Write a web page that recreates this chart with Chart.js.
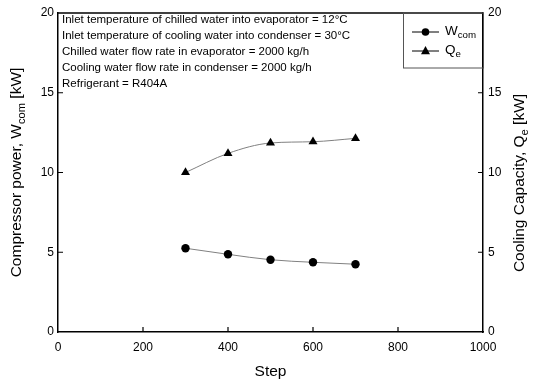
<!DOCTYPE html>
<html><head><meta charset="utf-8">
<script src="https://cdn.jsdelivr.net/npm/chart.js@4/dist/chart.umd.min.js"></script>
<style>html,body{margin:0;padding:0;background:#fff}canvas{display:block}</style>
</head><body>
<canvas id="c" width="536" height="381"></canvas>
<script>
// ---- data ----
const steps = [300, 400, 500, 600, 700];
const wcom = [5.25, 4.87, 4.53, 4.37, 4.25];
const qe = [10.0, 11.2, 11.85, 11.93, 12.14];
const xTickValues = [200, 400, 600, 800];
const yTickValues = [5, 10, 15];
const notes = [
  'Inlet temperature of chilled water into evaporator = 12°C',
  'Inlet temperature of cooling water into condenser = 30°C',
  'Chilled water flow rate in evaporator = 2000 kg/h',
  'Cooling water flow rate in condenser = 2000 kg/h',
  'Refrigerant = R404A'
];
const FONT = "'Liberation Sans', Arial, sans-serif";

function drawParts(ctx, parts, x, y, size, align) {
  let total = 0;
  const widths = parts.map(([t, sub]) => {
    ctx.font = (sub ? size * 0.72 : size) + 'px ' + FONT;
    const w = ctx.measureText(t).width; total += w; return w;
  });
  let cx = align === 'center' ? x - total / 2 : x;
  parts.forEach(([t, sub], i) => {
    ctx.font = (sub ? size * 0.72 : size) + 'px ' + FONT;
    ctx.textAlign = 'left';
    ctx.textBaseline = 'middle';
    ctx.fillText(t, cx, y + (sub ? size * 0.32 : 0));
    cx += widths[i];
  });
}

const decor = {
  id: 'decor',
  afterDraw(chart) {
    const ctx = chart.ctx, a = chart.chartArea;
    const sx = chart.scales.x, sy = chart.scales.y, sy1 = chart.scales.y1;
    ctx.save();
    ctx.strokeStyle = '#000'; ctx.fillStyle = '#000';
    ctx.lineWidth = 1.5;
    ctx.beginPath(); ctx.moveTo(a.left, a.top); ctx.lineTo(a.right, a.top); ctx.stroke();
    ctx.lineWidth = 1.2;
    ctx.beginPath();
    xTickValues.forEach(v => { const px = sx.getPixelForValue(v); ctx.moveTo(px, a.bottom); ctx.lineTo(px, a.bottom - 5); });
    yTickValues.forEach(v => {
      const py = sy.getPixelForValue(v); ctx.moveTo(a.left, py); ctx.lineTo(a.left + 5, py);
      const py1 = sy1.getPixelForValue(v); ctx.moveTo(a.right, py1); ctx.lineTo(a.right - 5, py1);
    });
    ctx.stroke();
    ctx.font = '11.5px ' + FONT; ctx.textAlign = 'left'; ctx.textBaseline = 'middle';
    notes.forEach((t, i) => ctx.fillText(t, a.left + 4, a.top + 7 + i * 16));
    const lx = 403, ly = a.top, lw = a.right - lx, lh = 55;
    ctx.lineWidth = 1;
    ctx.strokeStyle = '#555';
    ctx.strokeRect(lx + 0.5, ly, lw, lh);
    ctx.strokeStyle = '#000';
    const rows = [
      { y: ly + 19, style: 'circle', parts: [['W', false], ['com', true]] },
      { y: ly + 38, style: 'triangle', parts: [['Q', false], ['e', true]] }
    ];
    rows.forEach(r => {
      ctx.lineWidth = 1; ctx.strokeStyle = '#000';
      ctx.beginPath(); ctx.moveTo(412, r.y); ctx.lineTo(439, r.y); ctx.stroke();
      ctx.beginPath();
      if (r.style === 'circle') { ctx.arc(425.5, r.y, 3.8, 0, Math.PI * 2); }
      else { ctx.moveTo(425.5, r.y - 5); ctx.lineTo(430, r.y + 3.2); ctx.lineTo(421, r.y + 3.2); ctx.closePath(); }
      ctx.fill();
      drawParts(ctx, r.parts, 445, r.y - 1, 13.5, 'left');
    });
    ctx.save();
    ctx.translate(17, (a.top + a.bottom) / 2);
    ctx.rotate(-Math.PI / 2);
    drawParts(ctx, [['Compressor power, W', false], ['com', true], [' [kW]', false]], 0, 0, 15.5, 'center');
    ctx.restore();
    ctx.save();
    ctx.translate(520, 183);
    ctx.rotate(-Math.PI / 2);
    drawParts(ctx, [['Cooling Capacity, Q', false], ['e', true], [' [kW]', false]], 0, 0, 15.5, 'center');
    ctx.restore();
    ctx.restore();
  }
};

const tickFont = { family: FONT, size: 12 };
const borderOpt = { display: true, color: '#000', width: 1.5 };

new Chart(document.getElementById('c'), {
  type: 'line',
  data: {
    datasets: [
      {
        label: 'Wcom', yAxisID: 'y',
        data: steps.map((s, i) => ({ x: s, y: wcom[i] })),
        borderColor: '#808080', borderWidth: 1, cubicInterpolationMode: 'monotone',
        pointStyle: 'circle', pointRadius: 4.2, pointBackgroundColor: '#000', pointBorderColor: '#000', pointBorderWidth: 0
      },
      {
        label: 'Qe', yAxisID: 'y1',
        data: steps.map((s, i) => ({ x: s, y: qe[i] })),
        borderColor: '#808080', borderWidth: 1, cubicInterpolationMode: 'monotone',
        pointStyle: 'triangle', pointRadius: 5.2, pointBackgroundColor: '#000', pointBorderColor: '#000', pointBorderWidth: 0
      }
    ]
  },
  options: {
    responsive: false, animation: false,
    layout: { padding: { top: 13, left: 0, right: 0, bottom: 0 } },
    plugins: { legend: { display: false }, tooltip: { enabled: false } },
    scales: {
      x: {
        type: 'linear', position: 'bottom', min: 0, max: 1000,
        ticks: { stepSize: 200, color: '#000', font: tickFont, padding: 8, maxRotation: 0, callback: v => String(v) },
        grid: { display: false, drawTicks: false }, border: borderOpt,
        title: { display: true, text: 'Step', color: '#000', font: { family: FONT, size: 15.5 }, padding: { top: 4, bottom: 0 } },
        afterFit(s) { s.height = 49; }
      },
      y: {
        position: 'left', min: 0, max: 20,
        ticks: { stepSize: 5, color: '#000', font: tickFont, padding: 4 },
        grid: { display: false, drawTicks: false }, border: borderOpt,
        afterFit(s) { s.width = 58; }
      },
      y1: {
        position: 'right', min: 0, max: 20,
        ticks: { stepSize: 5, color: '#000', font: tickFont, padding: 5 },
        grid: { display: false, drawTicks: false }, border: borderOpt,
        afterFit(s) { s.width = 53; }
      }
    }
  },
  plugins: [decor]
});
</script>
</body></html>
